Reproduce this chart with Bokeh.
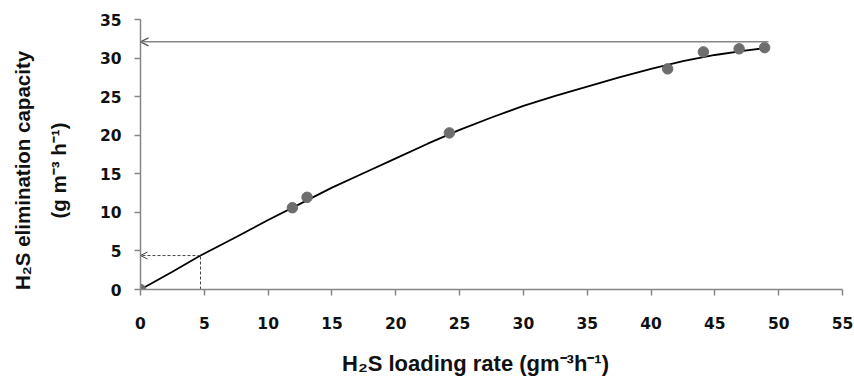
import math
from bokeh.plotting import figure
from bokeh.models import Range1d, FixedTicker, Label, Arrow, OpenHead
from bokeh.embed import file_html
from bokeh.resources import INLINE

# ---- data ----
loading_rate = [0, 11.9, 13.05, 24.2, 41.3, 44.1, 46.9, 48.9]
elimination_capacity = [0, 10.6, 11.95, 20.3, 28.6, 30.8, 31.2, 31.35]

fit_x = [0, 2.5, 4.7, 7.5, 10, 12.5, 15, 17.5, 20, 22.5, 25, 27.5, 30,
         32.5, 35, 37.5, 40, 42.5, 45, 47.5, 49]
fit_y = [0, 2.3, 4.4, 6.8, 9.0, 11.1, 13.2, 15.1, 17.0, 18.9, 20.7, 22.3,
         23.8, 25.1, 26.3, 27.5, 28.6, 29.6, 30.4, 31.0, 31.3]

x_ticks = [0, 5, 10, 15, 20, 25, 30, 35, 40, 45, 50, 55]
y_ticks = [0, 5, 10, 15, 20, 25, 30, 35]

max_capacity = [32.1]        # maximum elimination capacity guide
max_capacity_load = [49.2]
critical_load = [4.7]        # critical loading guide
critical_capacity = [4.4]

x_title = "H\u2082S loading rate (gm\u207b\u00b3h\u207b\u00b9)"
y_title_1 = "H\u2082S elimination capacity"
y_title_2 = "(g m\u207b\u00b3 h\u207b\u00b9)"

# ---- figure ----
AXIS_GRAY = "#868686"
TEXT = "#111111"

p = figure(width=854, height=392, output_backend="svg", toolbar_location=None,
           x_range=Range1d(0, 55), y_range=Range1d(0, 35),
           min_border_left=140, min_border_right=12,
           min_border_top=19, min_border_bottom=103)
p.outline_line_color = None
p.grid.visible = False
p.background_fill_color = "white"
p.border_fill_color = "white"

for ax, ticks in ((p.xaxis, x_ticks), (p.yaxis, y_ticks)):
    ax.ticker = FixedTicker(ticks=ticks)
    ax.axis_line_color = AXIS_GRAY
    ax.axis_line_width = 1.5
    ax.major_tick_line_color = AXIS_GRAY
    ax.major_tick_line_width = 1.5
    ax.major_tick_in = 0
    ax.major_tick_out = 6
    ax.minor_tick_line_color = None
    ax.major_label_text_font = "DejaVu Sans"
    ax.major_label_text_font_style = "bold"
    ax.major_label_text_font_size = "15.5px"
    ax.major_label_text_color = TEXT
p.xaxis.major_label_standoff = 21
p.yaxis.major_label_standoff = 13

# guides
p.add_layout(Arrow(end=OpenHead(size=8, line_color="#555555", line_width=1.2),
                   x_start=max_capacity_load[0], y_start=max_capacity[0],
                   x_end=0, y_end=max_capacity[0],
                   line_color=AXIS_GRAY, line_width=1.5))
p.line([critical_load[0], critical_load[0]], [0, critical_capacity[0]],
       line_color="#444444", line_width=1, line_dash="3 2")
p.add_layout(Arrow(end=OpenHead(size=7, line_color="#444444", line_width=1),
                   x_start=critical_load[0], y_start=critical_capacity[0],
                   x_end=0, y_end=critical_capacity[0],
                   line_color="#444444", line_width=1, line_dash="3 2"))

# fitted curve and measurements
p.line(fit_x, fit_y, line_color="black", line_width=1.8)
p.scatter(loading_rate, elimination_capacity, size=10.5, fill_color="#6d6d6d",
          line_color="#6d6d6d")

# ---- axis titles (side-panel labels, anchored at the data origin) ----
def title_label(text, ox, oy, size, side, rotated=False):
    p.add_layout(Label(x=0, y=0, x_offset=ox, y_offset=oy, text=text,
                       angle=math.pi / 2 if rotated else 0,
                       text_font="Liberation Sans", text_font_style="bold",
                       text_font_size=size, text_color=TEXT,
                       text_align="center", text_baseline="alphabetic"), side)


title_label(x_title, 335, -74, "22px", "below")
title_label(y_title_1, -118, 119, "20.5px", "left", rotated=True)
title_label(y_title_2, -82, 119, "20.5px", "left", rotated=True)

open("out.html", "w").write(file_html(p, INLINE))
